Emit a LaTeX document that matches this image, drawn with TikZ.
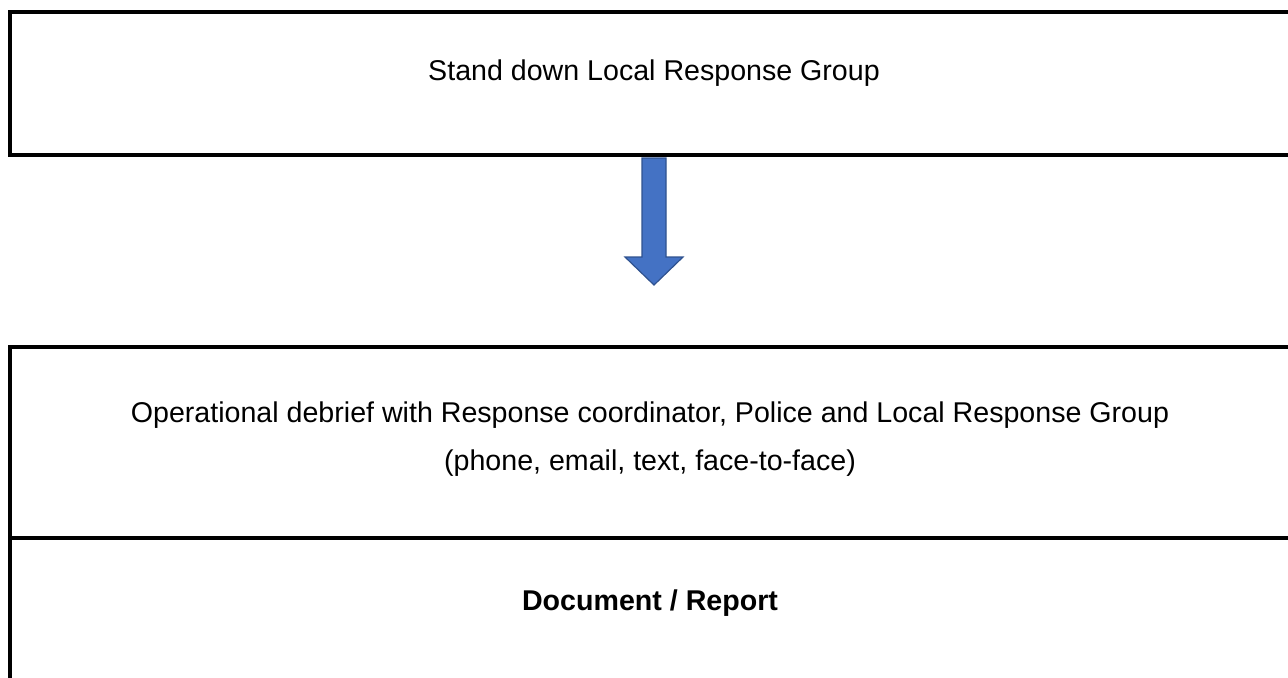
\documentclass[tikz,border=0pt]{standalone}
\usepackage{fontspec}
\setmainfont{Liberation Sans}
\usetikzlibrary{positioning}
\definecolor{arrowblue}{HTML}{4472C4}
\definecolor{arrowedge}{HTML}{2F528F}
\tikzset{
  stepbox/.style={draw, line width=2pt, rectangle, inner sep=0pt, anchor=north west},
  boxtext/.style={font=\fontsize{14.3}{24}\selectfont, inner sep=0pt, anchor=base},
  blockarrow/.style={draw=arrowedge, fill=arrowblue, line width=0.6pt},
}
\begin{document}
\begin{tikzpicture}[x=0.5pt,y=-0.5pt]
  \useasboundingbox (0,0) rectangle (1288,677);
  \clip (0,0) rectangle (1288,677);
  % boxes (run past the right and bottom edge)
  \node[stepbox, minimum width=646pt, minimum height=71.5pt] (standbox) at (8,10) {};
  \node[stepbox, minimum width=646pt, minimum height=95.25pt] (debriefbox) at (8,345) {};
  \node[stepbox, minimum width=646pt, minimum height=100pt] (reportbox) at (8,535.5) {};
  % texts
  \node[boxtext] (stand) at (654,80) {Stand down Local Response Group};
  \node[boxtext] (debrief) at (650,422) {Operational debrief with Response coordinator, Police and Local Response Group};
  \node[boxtext] (means) at (650,470) {(phone, email, text, face-to-face)};
  \node[boxtext, font=\fontsize{14.3}{24}\selectfont\bfseries] (report) at (650,610) {Document / Report};
  % block arrow
  \coordinate (arrowtip) at (654,285);
  \draw[blockarrow] (arrowtip) -- ++(29,-28) -- ++(-17,0) -- ++(0,-99)
    -- ++(-24,0) -- ++(0,99) -- ++(-17,0) -- cycle;
\end{tikzpicture}
\end{document}
